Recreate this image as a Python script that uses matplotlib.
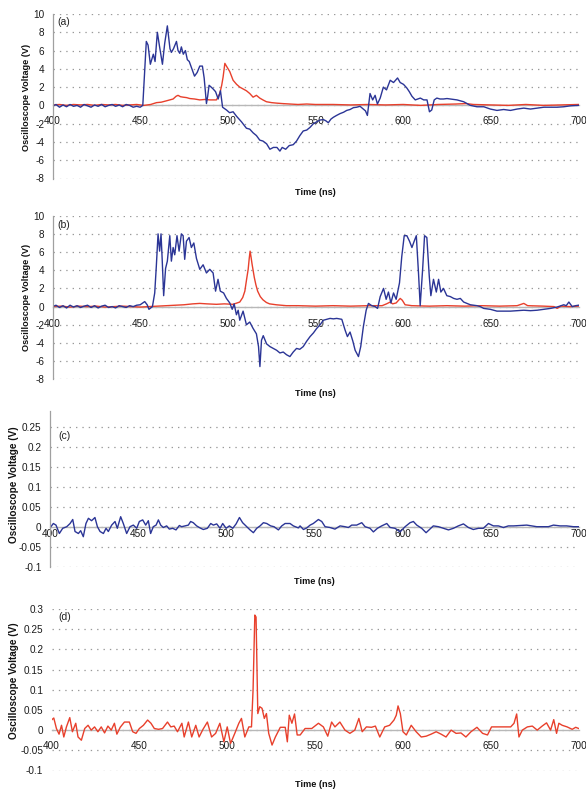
import matplotlib
matplotlib.use("Agg")
import matplotlib.pyplot as plt
from matplotlib.ticker import FixedLocator, FuncFormatter
import numpy as np

plt.rcParams['font.family'] = ['Liberation Sans', 'DejaVu Sans']
plt.rcParams['axes.unicode_minus'] = False

# trace data: (time ns, voltage V)
a_blue = [(400, -0.1), (402, 0.1), (404, -0.2), (406, 0.05), (408, -0.15), (410, 0.1), (412, -0.1), (414, 0.0),
          (416, -0.2), (418, 0.1), (420, -0.05), (422, -0.2), (424, 0.05), (426, -0.1), (428, 0.1), (430, -0.15),
          (432, 0.0), (434, 0.1), (436, -0.1), (438, 0.05), (440, -0.15), (442, 0.1), (444, 0.0), (446, -0.2),
          (448, -0.1), (450, -0.2), (451.5, 0.0), (452.5, 3.5), (453.5, 7.0), (454.5, 6.6), (455.8, 4.5),
          (457.5, 5.6), (458.5, 4.8), (459.8, 8.0), (461, 6.5), (462.7, 4.5), (464, 6.8), (465.5, 8.7),
          (467, 6.2), (467.8, 5.8), (469, 6.2), (470.7, 7.0), (471.6, 6.0), (472.6, 5.7), (473.5, 6.4),
          (474.6, 5.6), (475.8, 6.0), (476.9, 5.0), (478, 4.8), (479.5, 4.0), (481, 3.2), (482.5, 3.6),
          (484, 4.3), (485.5, 4.3), (486.5, 3.0), (487.8, 0.2), (488.5, 1.0), (489.3, 2.2), (490.5, 2.0),
          (491.6, 1.8), (493, 1.5), (494.5, 0.7), (495.8, 1.6), (497, -0.2), (499.2, -0.5), (501, -0.8),
          (503, -0.7), (505, -1.2), (507.8, -1.8), (510.6, -2.5), (512.5, -2.6), (514.4, -3.0), (516.3, -3.3),
          (518.2, -3.8), (520, -3.9), (522.1, -4.2), (524, -4.8), (526, -4.6), (528, -4.6), (529.7, -5.0),
          (531, -4.6), (533, -4.8), (535, -4.4), (537.3, -4.3), (539.2, -3.9), (541.1, -3.3), (543, -2.8),
          (545, -2.7), (546.9, -2.4), (548.8, -2.0), (550.7, -1.8), (552.6, -1.6), (554.5, -1.55), (556, -1.7),
          (557.3, -1.9), (558.8, -1.5), (560.2, -1.3), (562, -1.1), (564, -0.9), (566, -0.75), (567.8, -0.55),
          (569.7, -0.45), (571.6, -0.25), (573.5, -0.2), (575.4, -0.1), (577.3, -0.4), (578.5, -0.6),
          (579.6, -1.1), (581.1, 1.3), (582.6, 0.6), (584, 1.1), (585.3, 0.15), (586.9, 0.8), (588.7, 2.0),
          (590.5, 1.7), (592.6, 2.75), (594.5, 2.5), (596.8, 3.0), (598.3, 2.5), (600.2, 2.3), (602.1, 1.9),
          (603.5, 1.5), (605, 1.0), (606.9, 0.6), (608.3, 0.7), (609.8, 0.8), (611.7, 0.6), (613.6, 0.6),
          (615, -0.7), (616.3, -0.5), (617.7, 0.6), (619.2, 0.8), (621, 0.7), (623, 0.7), (625, 0.75),
          (626.9, 0.7), (630.7, 0.6), (634.5, 0.4), (638.3, 0.0), (642.1, -0.15), (646, -0.15), (649.7, -0.4),
          (653.5, -0.55), (657.3, -0.45), (661.2, -0.55), (665, -0.4), (668.8, -0.3), (672.6, -0.4),
          (676.4, -0.3), (680.2, -0.2), (684, -0.2), (687.8, -0.2), (691.6, -0.15), (695.4, -0.05), (700, 0.0)]

a_red = [(400, 0.05), (404, 0.1), (408, 0.0), (412, 0.1), (416, 0.05), (420, 0.1), (424, 0.0), (428, 0.1),
         (432, 0.05), (436, 0.1), (440, 0.0), (444, 0.05), (448, 0.1), (452, 0.0), (456, 0.1), (459.3, 0.3),
         (462, 0.35), (465, 0.5), (468.8, 0.7), (470.5, 1.0), (471.6, 1.1), (473, 0.95), (474.5, 0.9),
         (476.5, 0.85), (478.3, 0.75), (481, 0.7), (484, 0.6), (487, 0.65), (489.7, 0.6), (493.5, 0.6),
         (495.4, 1.3), (496.5, 2.2), (497.3, 3.1), (498.3, 4.6), (499.2, 4.3), (501.1, 3.7), (503, 2.75),
         (505, 2.3), (506.8, 2.0), (508.7, 1.8), (510.6, 1.6), (512.5, 1.3), (514.4, 0.9), (516.3, 1.1),
         (518.2, 0.8), (520, 0.6), (522, 0.4), (525, 0.3), (527.7, 0.25), (531, 0.2), (535.4, 0.15),
         (540, 0.1), (545, 0.15), (550, 0.1), (560, 0.1), (570, 0.05), (580, 0.1), (590, 0.05), (600, 0.1),
         (610, 0.0), (620, 0.1), (630, 0.15), (636, 0.2), (640, 0.1), (650, 0.05), (660, 0.0), (670, 0.1),
         (680, 0.0), (690, 0.05), (700, 0.1)]

b_blue = [(400, 0.0), (402, 0.15), (404, -0.1), (406, 0.1), (408, -0.15), (410, 0.15), (412, -0.05), (414, 0.1),
          (416, -0.1), (418, 0.05), (420, 0.15), (422, -0.1), (424, 0.1), (426, -0.15), (428, 0.05), (430, 0.15),
          (432, -0.1), (434, 0.0), (436, -0.15), (438, 0.1), (440, 0.0), (442, -0.1), (444, 0.1), (446, 0.0),
          (448, 0.15), (450, 0.2), (452.6, 0.55), (454, 0.2), (455, -0.3), (457, 0.0), (458.3, 1.5),
          (459.2, 4.4), (460.2, 8.0), (461.1, 6.1), (461.9, 8.0), (462.6, 5.0), (463.4, 1.2), (464.5, 4.2),
          (465.5, 5.0), (466.9, 7.8), (467.8, 5.0), (468.8, 6.5), (469.7, 5.7), (471, 7.8), (472.2, 6.1),
          (473.5, 8.0), (474.5, 7.8), (475.4, 5.2), (476.4, 7.2), (477.9, 7.6), (479.2, 6.5), (480.6, 7.0),
          (482.1, 5.3), (484, 4.1), (485.9, 4.6), (487.8, 3.7), (489.7, 4.1), (491.6, 3.7), (493, 1.7),
          (494.4, 3.0), (495.7, 1.7), (497.6, 1.5), (499.2, 0.9), (501.1, 0.4), (502.5, -0.3), (503.6, 0.3),
          (504.9, -0.9), (505.9, -0.4), (506.8, -1.5), (508.7, -0.5), (510.6, -2.0), (512.5, -1.7),
          (514.4, -2.4), (516.3, -3.0), (517.5, -4.4), (518.3, -6.6), (519.2, -3.7), (520.2, -3.2),
          (522.1, -4.1), (524, -4.4), (525.9, -4.6), (527.8, -4.8), (529.7, -5.1), (531.6, -5.0),
          (533.5, -5.3), (535.4, -5.5), (537.3, -5.0), (539.2, -4.6), (541, -4.7), (543, -4.4), (545, -3.8),
          (546.9, -3.3), (548.8, -2.9), (550.7, -2.4), (552.6, -2.0), (554.5, -1.5), (556.4, -1.4),
          (558.3, -1.3), (560.2, -1.35), (562.1, -1.3), (563.5, -1.35), (565, -1.4), (566.9, -2.6),
          (568.2, -3.3), (569.7, -2.8), (571.3, -3.8), (572.6, -4.8), (574.5, -5.5), (575.8, -4.4),
          (577.3, -2.2), (578.9, -0.4), (580.2, 0.35), (582.1, 0.1), (584, 0.0), (585.4, -0.2), (586.9, 1.1),
          (588.8, 2.0), (590.3, 0.8), (591.6, 1.6), (593, 0.4), (594.5, 1.5), (596, 0.8), (597.9, 2.6),
          (599.2, 5.5), (600.6, 7.8), (602.1, 7.8), (603.6, 7.2), (605, 6.5), (606.3, 7.2), (607.5, 7.8),
          (608.8, 3.5), (609.7, 0.1), (611.1, 4.1), (612.2, 7.8), (613.5, 7.6), (614.9, 3.3), (615.8, 1.2),
          (617.3, 3.0), (618.9, 1.6), (620.2, 3.0), (621.5, 1.6), (623, 2.0), (624.9, 1.2), (626.9, 1.1),
          (628.8, 0.9), (630.7, 0.8), (632.6, 0.9), (634.5, 0.5), (638.3, 0.2), (642.1, 0.1), (644, 0.0),
          (645.9, -0.2), (649.7, -0.3), (653.5, -0.5), (657, -0.5), (661.2, -0.5), (665, -0.45),
          (668.8, -0.4), (672.6, -0.45), (676.4, -0.4), (680, -0.3), (684, -0.2), (687.8, -0.05),
          (691.6, 0.2), (693, 0.1), (694.5, 0.5), (696.4, 0.0), (698.3, 0.1), (700, 0.15)]

b_red = [(400, 0.0), (405, 0.05), (410, -0.05), (415, 0.05), (420, 0.0), (425, 0.05), (430, -0.05), (435, 0.0),
         (440, 0.05), (445, 0.0), (450, -0.05), (455, 0.0), (460, 0.05), (465, 0.1), (470, 0.15), (475, 0.2),
         (480, 0.3), (484, 0.35), (488, 0.3), (493.5, 0.25), (498, 0.3), (503, 0.25), (506.8, 0.5),
         (508.5, 1.0), (509.7, 1.7), (510.7, 3.0), (511.6, 4.1), (512.2, 5.3), (512.7, 6.1), (513.2, 5.5),
         (513.8, 4.7), (515.1, 3.2), (516, 2.4), (517, 1.7), (518.5, 1.1), (520, 0.75), (522, 0.45),
         (523.8, 0.3), (527.6, 0.2), (533.3, 0.1), (540, 0.1), (550, 0.05), (560, 0.1), (570, 0.05),
         (580, 0.1), (588, 0.1), (590.5, 0.3), (592.6, 0.5), (594, 0.3), (596, 0.4), (598.3, 0.9),
         (599.5, 0.7), (601.1, 0.2), (605, 0.1), (615, 0.05), (625, 0.1), (635, 0.05), (645, 0.1),
         (655, 0.05), (665, 0.1), (668.8, 0.35), (671, 0.1), (680, 0.05), (686, 0.0), (687.8, -0.2),
         (690, 0.05), (695, 0.0), (700, 0.05)]

c_blue = [(400.0, -0.003), (401.9, 0.008), (403.4, 0.004), (405.3, -0.017), (407.2, -0.004), (409.5, 0.0),
          (411.4, 0.008), (412.9, 0.018), (414.2, -0.012), (416.1, -0.017), (417.4, -0.010), (418.9, -0.025),
          (420.4, 0.008), (421.8, 0.021), (423.6, 0.015), (425.5, 0.023), (426.9, 0.0), (428.4, -0.012),
          (430.3, -0.017), (431.8, -0.004), (433.1, -0.012), (435.0, 0.004), (436.9, 0.013), (438.2, -0.004),
          (440.1, 0.025), (441.6, 0.008), (443.5, -0.017), (445.4, 0.0), (447.3, 0.004), (449.2, -0.004),
          (450.7, 0.013), (452.6, 0.017), (454.3, 0.004), (455.8, 0.015), (457.1, -0.017), (458.6, 0.0),
          (460.2, 0.004), (461.5, 0.017), (462.8, 0.004), (464.3, -0.002), (466.2, 0.002), (467.7, -0.006),
          (469.6, -0.004), (471.5, -0.008), (473.4, 0.003), (474.7, 0.0), (476.6, 0.002), (478.5, 0.004),
          (479.8, 0.013), (481.3, 0.010), (483.2, 0.002), (485.1, -0.003), (487.0, -0.007), (489.3, -0.004),
          (491.2, 0.008), (492.7, 0.004), (494.6, 0.007), (496.5, -0.004), (498.0, 0.008), (499.9, -0.004),
          (501.8, 0.002), (503.7, -0.004), (505.6, 0.007), (507.5, 0.023), (509.3, 0.010), (511.2, 0.002),
          (513.5, -0.008), (515.4, -0.015), (517.3, -0.004), (519.2, 0.002), (521.1, 0.010), (523.0, 0.008),
          (525.2, 0.002), (527.1, 0.0), (529.6, -0.008), (531.5, 0.002), (533.4, 0.008), (536.2, 0.008),
          (538.1, 0.002), (540.9, -0.003), (541.9, 0.002), (543.8, -0.007), (545.7, -0.003), (547.6, 0.004),
          (549.4, 0.008), (552.3, 0.018), (554.2, 0.013), (556.1, 0.0), (558.9, -0.002), (561.7, -0.006),
          (564.6, 0.002), (567.4, 0.0), (569.3, -0.002), (571.2, 0.004), (574.0, 0.004), (576.9, 0.010),
          (578.8, 0.0), (581.6, -0.004), (583.5, -0.013), (585.8, -0.004), (588.2, 0.002), (591.1, 0.008),
          (593.0, -0.002), (595.8, -0.004), (598.6, -0.013), (601.5, 0.0), (604.3, 0.010), (606.2, 0.013),
          (608.1, 0.004), (610.9, -0.004), (613.4, -0.015), (615.3, -0.007), (617.5, 0.002), (620.4, 0.0),
          (623.2, -0.004), (626.1, -0.008), (628.9, -0.004), (631.7, 0.002), (634.6, 0.007), (637.4, -0.002),
          (640.2, -0.007), (643.1, -0.004), (645.9, -0.004), (648.8, 0.008), (651.6, 0.002), (654.4, 0.002),
          (657.3, -0.002), (660.1, 0.002), (663.0, 0.002), (666.7, 0.003), (670.5, 0.004), (673.4, 0.002),
          (676.2, 0.0), (680.0, 0.0), (682.8, 0.0), (685.7, 0.004), (689.4, 0.002), (693.2, 0.002),
          (697.0, 0.0), (700.0, 0.0)]

d_red = [(400.0, 0.025), (401.3, 0.03), (402.8, 0.004), (404.3, -0.01), (405.7, 0.012), (407.0, -0.017),
         (408.5, 0.008), (410.4, 0.031), (411.9, -0.004), (413.8, 0.017), (415.1, -0.017), (417.0, -0.025),
         (418.9, 0.004), (420.8, 0.012), (422.6, 0.0), (424.5, 0.008), (426.4, -0.004), (428.3, 0.008),
         (430.2, -0.007), (432.1, 0.01), (434.0, 0.0), (435.8, 0.017), (437.2, -0.01), (439.1, 0.007),
         (441.5, 0.02), (444.3, 0.02), (446.2, -0.004), (448.1, -0.008), (450.0, 0.004), (452.3, 0.012),
         (454.7, 0.025), (456.6, 0.017), (458.5, 0.004), (460.9, 0.002), (463.2, 0.004), (466.0, 0.02),
         (467.9, 0.008), (469.8, 0.01), (471.7, -0.004), (474.2, 0.017), (475.5, -0.017), (477.9, 0.02),
         (479.8, -0.017), (482.1, 0.012), (484.0, -0.017), (486.2, 0.002), (488.7, 0.02), (491.1, -0.017),
         (493.4, -0.008), (495.8, 0.017), (498.1, -0.029), (500.0, 0.008), (501.9, -0.033), (504.3, -0.008),
         (506.6, 0.017), (508.1, 0.029), (510.0, -0.017), (512.3, 0.008), (513.8, 0.008), (514.7, 0.1),
         (515.7, 0.285), (516.4, 0.28), (517.4, 0.041), (518.5, 0.058), (519.8, 0.054), (521.1, 0.029),
         (522.3, 0.041), (523.6, -0.008), (525.5, -0.037), (527.4, -0.017), (530.2, 0.007), (533.0, 0.007),
         (534.2, -0.029), (535.3, 0.037), (536.8, 0.017), (538.3, 0.04), (539.8, -0.012), (541.5, -0.012),
         (544.3, 0.004), (548.1, 0.004), (551.9, 0.017), (554.7, 0.008), (557.2, -0.015), (559.4, 0.02),
         (561.3, 0.008), (564.1, 0.02), (567.0, 0.0), (569.8, -0.008), (572.6, 0.0), (574.9, 0.029),
         (576.8, -0.004), (579.2, 0.008), (582.1, 0.007), (584.3, 0.01), (586.8, -0.017), (589.6, 0.008),
         (592.4, 0.012), (594.9, 0.025), (596.2, 0.037), (597.2, 0.06), (598.5, 0.041), (600.0, -0.004),
         (601.9, -0.012), (604.7, 0.012), (607.5, -0.004), (610.4, -0.017), (613.2, -0.015), (616.0, -0.01),
         (618.9, -0.004), (621.7, -0.01), (624.5, -0.017), (627.4, 0.0), (630.2, -0.008), (633.0, -0.007),
         (635.8, -0.017), (638.7, -0.004), (642.1, 0.007), (645.3, -0.008), (648.1, -0.012), (650.4, 0.008),
         (653.8, 0.008), (657.6, 0.008), (661.3, 0.008), (663.2, 0.017), (664.7, 0.04), (666.0, -0.017),
         (667.9, 0.0), (670.8, 0.008), (673.6, 0.01), (676.4, 0.0), (679.2, 0.01), (681.7, 0.018),
         (684.0, 0.0), (685.8, 0.026), (687.4, -0.008), (688.7, 0.017), (690.6, 0.012), (693.4, 0.008),
         (696.3, 0.002), (698.3, 0.007), (700.0, 0.004)]

x_ticks = [400, 450, 500, 550, 600, 650, 700]
big_yticks = [-8, -6, -4, -2, 0, 2, 4, 6, 8, 10]
c_yticks = [-0.1, -0.05, 0, 0.05, 0.1, 0.15, 0.2, 0.25]
d_yticks = [-0.1, -0.05, 0, 0.05, 0.1, 0.15, 0.2, 0.25, 0.3]

BLUE = '#2b3596'
RED = '#e8402c'
W, H = 586, 793

fig = plt.figure(figsize=(W / 100, H / 100), dpi=100)


def px_axes(left, top, right, bottom):
    return fig.add_axes([left / W, 1 - bottom / H, (right - left) / W, (bottom - top) / H])


def fmt(v, pos):
    s = f'{round(v, 3):g}'
    return '0' if s == '-0' else s


def style(ax, yticks, ylim, xpad, left_spine=True):
    ax.set_xlim(400, 700)
    ax.set_ylim(*ylim)
    for side in ['top', 'right']:
        ax.spines[side].set_visible(False)
    ax.spines['left'].set_visible(left_spine)
    ax.spines['left'].set_color('#a0a0a0')
    ax.spines['left'].set_linewidth(0.9)
    ax.spines['bottom'].set_position(('data', 0))
    ax.spines['bottom'].set_color('#b8b8b8')
    ax.spines['bottom'].set_linewidth(1.0)
    ax.spines['bottom'].set_zorder(1)
    ax.xaxis.set_major_locator(FixedLocator(x_ticks))
    ax.yaxis.set_major_locator(FixedLocator(yticks))
    ax.yaxis.set_major_formatter(FuncFormatter(fmt))
    ax.tick_params(axis='x', length=0, pad=xpad, labelsize=7.2, colors='#1a1a1a')
    ax.tick_params(axis='y', length=0, pad=6, labelsize=7.2, colors='#1a1a1a')
    ax.yaxis.grid(True, linestyle=(0, (1.1, 4.0)), color='#9a9a9a', linewidth=0.9)
    ax.set_axisbelow(True)
    ax.patch.set_alpha(0)


def labels(ax, letter, lx, ly, tpos, ylab_x, ylab_y, ysize):
    ax.text(lx, ly, letter, fontsize=7.5, ha='left', va='center', color='#222222')
    ax.text(0.5, tpos, 'Time (ns)', transform=ax.transAxes, ha='center', va='center',
            fontsize=6.6, fontweight='bold', color='#111111')
    fig.text(ylab_x / W, 1 - ylab_y / H, 'Oscilloscope Voltage (V)', rotation=90,
             ha='center', va='center', fontsize=ysize, fontweight='bold', color='#111111')


# (a)
ax = px_axes(52.5, 14, 578.5, 178.5)
style(ax, big_yticks, (-8, 10), 8)
t, v = np.array(a_red).T
ax.plot(t, v, color=RED, lw=1.0)
t, v = np.array(a_blue).T
ax.plot(t, v, color=BLUE, lw=1.0)
labels(ax, '(a)', 403, 9.1, -0.088, 27, 97, 6.6)

# (b)
ax = px_axes(52.5, 215.7, 578.5, 379.3)
style(ax, big_yticks, (-8, 10), 9)
t, v = np.array(b_red).T
ax.plot(t, v, color=RED, lw=1.0)
t, v = np.array(b_blue).T
ax.plot(t, v, color=BLUE, lw=1.0)
labels(ax, '(b)', 403, 9.0, -0.086, 27, 297, 6.6)

# (c)
ax = px_axes(50, 410.7, 578.7, 566.7)
style(ax, c_yticks, (-0.1, 0.29), 2)
t, v = np.array(c_blue).T
ax.plot(t, v, color=BLUE, lw=1.0)
labels(ax, '(c)', 404.5, 0.2275, -0.096, 14, 485, 7.2)

# (d)
ax = px_axes(51.5, 609, 578.7, 770.5)
style(ax, d_yticks, (-0.1, 0.3), 8, left_spine=False)
t, v = np.array(d_red).T
ax.plot(t, v, color=RED, lw=1.0)
labels(ax, '(d)', 403.7, 0.28, -0.085, 14, 681, 7.2)

fig.savefig('out.png', dpi=100)
